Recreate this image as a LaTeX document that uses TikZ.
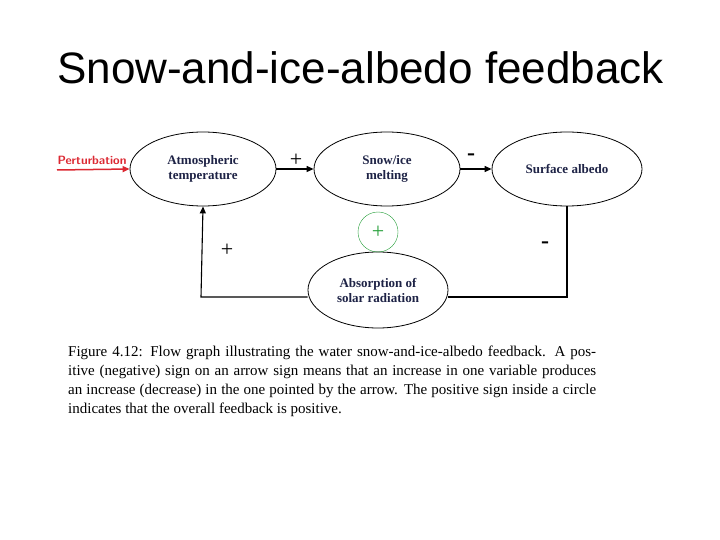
\documentclass[tikz,border=0pt]{standalone}
\usepackage{fontspec}
\setmainfont{Liberation Serif}
\newfontfamily\titlefont{Liberation Sans}
\usetikzlibrary{shapes.geometric,arrows.meta}
\definecolor{navy}{RGB}{30,35,70}
\definecolor{pertred}{RGB}{220,40,50}
\definecolor{fbgreen}{RGB}{40,160,60}
\begin{document}
\begin{tikzpicture}[x=1pt,y=-1pt,
  oval/.style={ellipse,draw,line width=0.8pt,minimum width=146pt,minimum height=74pt,align=center,text=navy,font=\fontsize{13}{15}\selectfont\bfseries},
  conn/.style={line width=1.1pt,-{Triangle[length=7pt,width=6pt]}},
  sign/.style={font=\fontsize{22}{22}\selectfont}]
\useasboundingbox[fill=white] (0,0) rectangle (720,540);
\node[font=\titlefont\fontsize{44}{50}\selectfont,anchor=west,inner sep=0pt] (title) at (57,68) {Snow-and-ice-albedo feedback};
\node[oval] (atm) at (203,169) {Atmospheric\\temperature};
\node[oval] (snow) at (387,169) {Snow/ice\\melting};
\node[oval,minimum width=150pt] (alb) at (567,169) {Surface albedo};
\node[oval,minimum width=140pt,minimum height=76pt] (abs) at (378,290) {Absorption of\\solar radiation};
\node[circle,draw=fbgreen,minimum size=40pt,text=fbgreen,inner sep=0pt,font=\fontsize{22}{22}\selectfont] (fb) at (378,232) {+};
\coordinate (pstart) at (57,170);
\node[text=pertred,font=\fontsize{12}{13}\selectfont\bfseries\sffamily,anchor=south] (plab) at (92,168) {Perturbation};
\draw[conn,pertred,line width=1.5pt] (pstart) -- (atm.west);
\draw[conn] (atm.east) -- (snow.west);
\draw[conn] (snow.east) -- (alb.west);
\coordinate (c1) at (567,297);
\coordinate (c2) at (201,297);
\draw[line width=1.1pt] (alb.south) -- (c1) -- (abs.east |- c1);
\draw[conn] (abs.west |- c2) -- (c2) -- (atm.south);
\node[sign] (s1) at (296,160) {+};
\node[sign,font=\fontsize{24}{24}\selectfont\bfseries] (s2) at (471,157) {-};
\node[sign] (s3) at (227,250) {+};
\node[sign,font=\fontsize{24}{24}\selectfont\bfseries] (s4) at (545,245) {-};
\node[anchor=north west,text width=528pt,align=justify,font=\fontsize{15}{19}\selectfont,inner sep=0pt] (cap) at (68,346) {\hyphenpenalty=10000 Figure 4.12: Flow graph illustrating the water snow-and-ice-albedo feedback. A positive (negative) sign on an arrow sign means that an increase in one variable produces an increase (decrease) in the one pointed by the arrow. The positive sign inside a circle indicates that the overall feedback is positive.};
\end{tikzpicture}
\end{document}
